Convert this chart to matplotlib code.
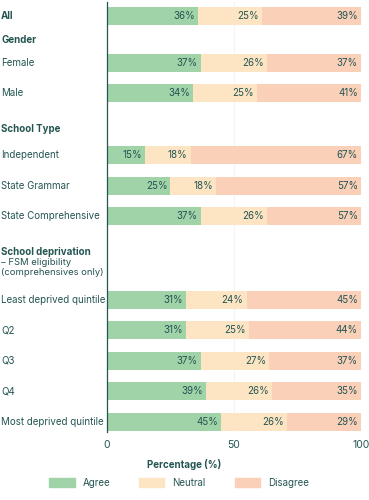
import numpy as np
import matplotlib.pyplot as plt
from matplotlib.patches import Patch
from matplotlib.transforms import blended_transform_factory

plt.rcParams['font.family'] = ['Inter', 'DejaVu Sans']

# Datos
etiquetas = ["All", "Female", "Male", "Independent", "State Grammar",
             "State Comprehensive", "Least deprived quintile", "Q2", "Q3",
             "Q4", "Most deprived quintile"]
agree = [36, 37, 34, 15, 25, 37, 31, 31, 37, 39, 45]
neutral = [25, 26, 25, 18, 18, 26, 24, 25, 27, 26, 26]
disagree = [39, 37, 41, 67, 57, 57, 45, 44, 37, 35, 29]
encabezados = ["Gender", "School Type", "School deprivation"]
subtitulo = "– FSM eligibility\n(comprehensives only)"

# Posiciones verticales (layout)
pos_barras = [0, 1.54, 2.52, 4.56, 5.57, 6.56, 9.31, 10.3, 11.31, 12.3, 13.31]
pos_encab = [0.79, 3.70, 7.74]

col_texto = "#235552"
colores = {"Agree": "#a0d3a8", "Neutral": "#fde5c4", "Disagree": "#fbd0b9"}

fig = plt.figure(figsize=(3.69, 5.0), dpi=100)
ax = fig.add_axes([0.29, 0.136, 0.688, 0.86])

izq = np.zeros(len(etiquetas))
for nombre, valores in zip(colores, [agree, neutral, disagree]):
    valores = np.array(valores)
    ax.barh(pos_barras, valores, left=izq, height=0.6, color=colores[nombre],
            label=nombre, zorder=2)
    fin = np.minimum(izq + valores, 100)
    for y, x, v in zip(pos_barras, fin, valores):
        ax.text(x - 1.2, y, f"{v}%", ha="right", va="center", fontsize=7,
                color=col_texto, zorder=3)
    izq = izq + valores

ax.set_xlim(0, 100)
ax.set_ylim(13.64, -0.46)
ax.set_xticks([0, 50, 100])
ax.set_yticks([])
ax.tick_params(axis="x", length=0, labelsize=7.5, labelcolor=col_texto, pad=6)
ax.grid(axis="x", color="#f4f4f4", linewidth=0.8, zorder=0)
for lado in ["top", "right", "bottom"]:
    ax.spines[lado].set_visible(False)
ax.spines["left"].set_color(col_texto)
ax.spines["left"].set_linewidth(0.9)
ax.spines["left"].set_zorder(4)

# Etiquetas de categorias a la izquierda
trans = blended_transform_factory(fig.transFigure, ax.transData)
for lab, y in zip(etiquetas, pos_barras):
    peso = "bold" if lab == "All" else "normal"
    ax.text(0.003, y, lab, transform=trans, ha="left", va="center",
            fontsize=7, color=col_texto, fontweight=peso)
for lab, y in zip(encabezados, pos_encab):
    ax.text(0.003, y, lab, transform=trans, ha="left", va="center",
            fontsize=7, color=col_texto, fontweight="bold")
ax.text(0.003, pos_encab[2] + 0.2, subtitulo, transform=trans, ha="left",
        va="top", fontsize=6.8, color=col_texto, linespacing=1.15)

fig.text(0.5, 0.072, "Percentage (%)", ha="center", va="center", fontsize=7,
         fontweight="bold", color=col_texto)

handles = [Patch(color=c, label=n) for n, c in colores.items()]
leg = fig.legend(handles=handles, loc="center", bbox_to_anchor=(0.485, 0.034),
                 ncol=3, frameon=False, fontsize=7, handlelength=2.6,
                 handleheight=1.1, columnspacing=3.0, handletextpad=0.8)
for t in leg.get_texts():
    t.set_color(col_texto)

plt.savefig("out.png", dpi=100)
